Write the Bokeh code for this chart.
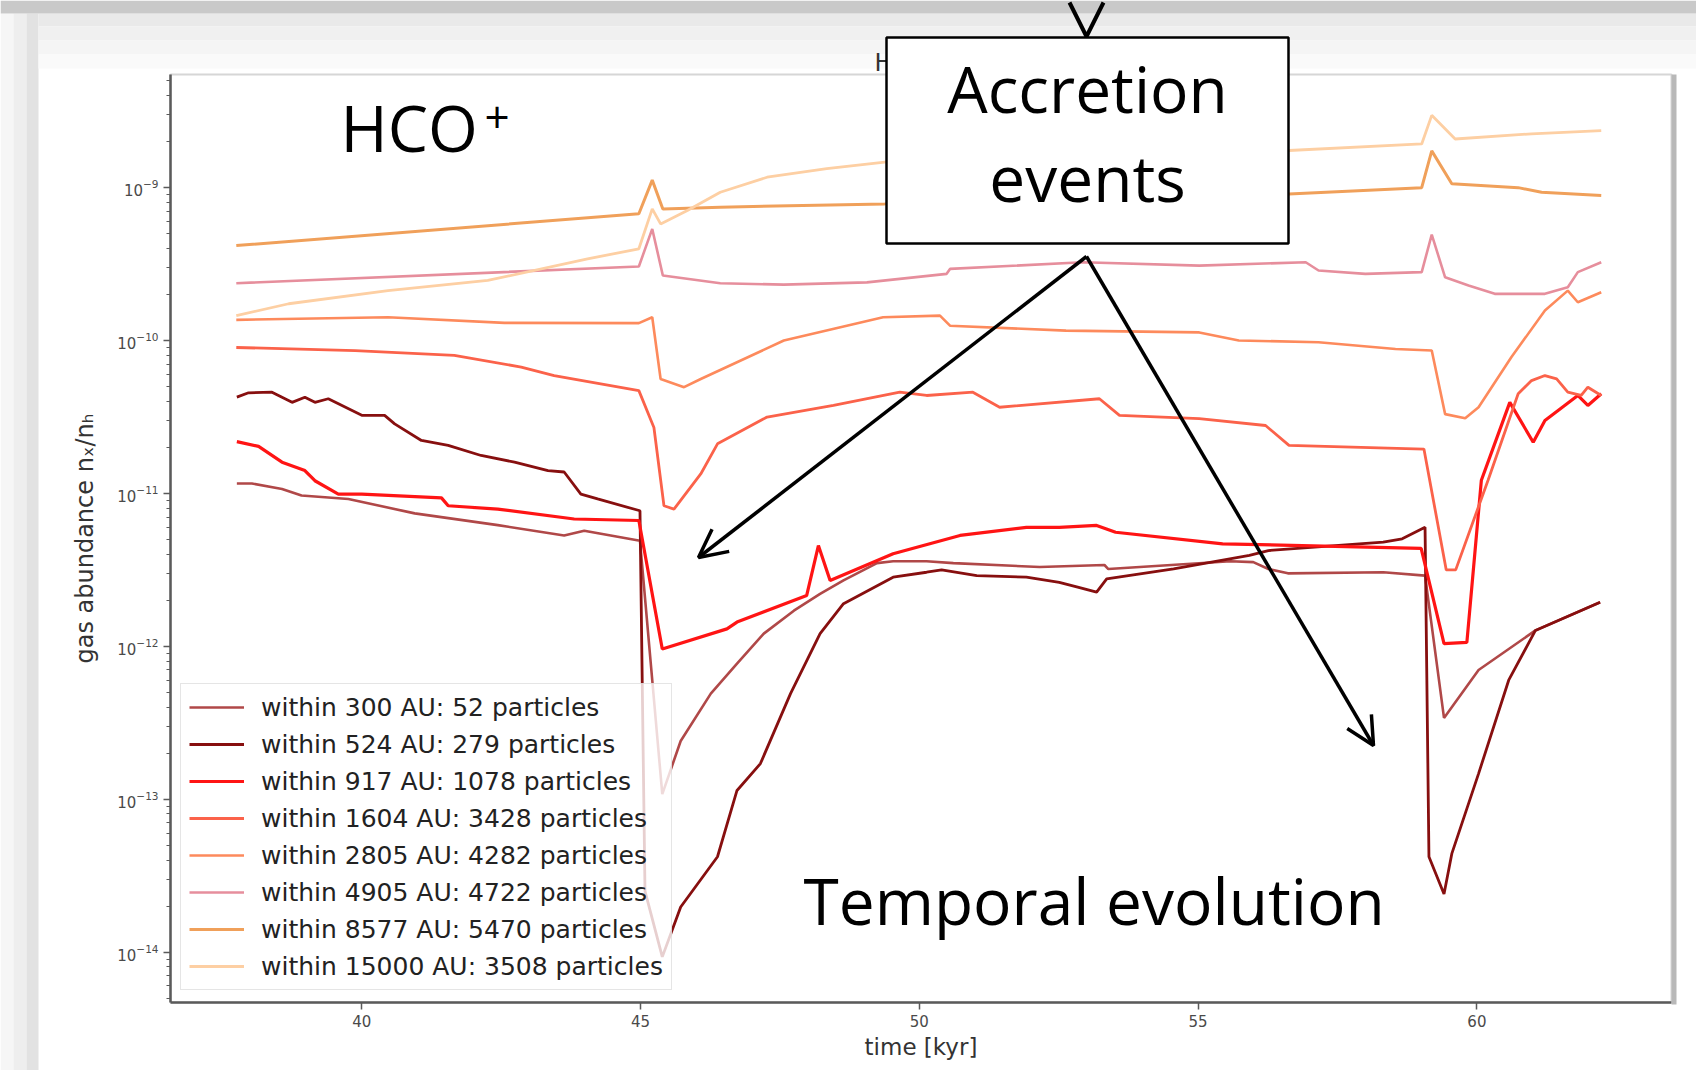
from bokeh.plotting import figure
from bokeh.layouts import column
from bokeh.models import Range1d, FixedTicker, Label, Arrow, OpenHead
from bokeh.core.properties import value
from bokeh.embed import file_html
from bokeh.resources import INLINE

W, H = 1696, 1070

# ---- data (time in kyr, gas abundance n_X/n_H) ----
t_300 = [37.76, 38.03, 38.57, 38.92, 39.76, 40.95, 42.44, 43.63, 43.99, 44.99, 45.39, 45.72, 46.26, 46.73,
         47.21, 47.75, 48.22, 48.64, 49.24, 49.53, 50.13, 50.61, 52.16, 53.32, 53.39, 55.58, 55.99, 56.26,
         56.61, 58.32, 59.07, 59.41, 60.03, 61.05, 62.21]
v_300 = [1.16e-11, 1.16e-11, 1.07e-11, 9.7e-12, 9.2e-12, 7.4e-12, 6.2e-12, 5.3e-12, 5.7e-12, 4.9e-12,
         1.08e-13, 2.4e-13, 4.9e-13, 7.7e-13, 1.21e-12, 1.71e-12, 2.2e-12, 2.7e-12, 3.5e-12, 3.6e-12,
         3.6e-12, 3.5e-12, 3.3e-12, 3.4e-12, 3.2e-12, 3.6e-12, 3.55e-12, 3.2e-12, 3.0e-12, 3.05e-12,
         2.9e-12, 3.4e-13, 7.0e-13, 1.27e-12, 1.94e-12]

t_524 = [37.76, 37.97, 38.39, 38.75, 38.98, 39.16, 39.40, 40.0, 40.41, 40.59, 41.07, 41.55, 42.14, 42.74,
         43.34, 43.63, 43.93, 44.23, 44.99, 45.08, 45.39, 45.72, 46.38, 46.73, 47.15, 47.69, 48.22, 48.64,
         49.53, 50.13, 50.4, 51.03, 51.92, 52.51, 52.84, 53.18, 53.36, 54.56, 55.92, 56.26, 58.32, 58.66,
         59.07, 59.14, 59.41, 59.55, 60.03, 60.57, 61.05, 62.21]
v_524 = [4.26e-11, 4.55e-11, 4.59e-11, 3.94e-11, 4.26e-11, 3.94e-11, 4.16e-11, 3.24e-11, 3.24e-11, 2.85e-11,
         2.22e-11, 2.06e-11, 1.77e-11, 1.60e-11, 1.41e-11, 1.38e-11, 9.9e-12, 9.2e-12, 7.7e-12, 2.5e-14,
         9.3e-15, 1.97e-14, 4.2e-14, 1.14e-13, 1.71e-13, 4.9e-13, 1.21e-12, 1.90e-12, 2.83e-12, 3.05e-12,
         3.16e-12, 2.90e-12, 2.83e-12, 2.62e-12, 2.44e-12, 2.26e-12, 2.76e-12, 3.21e-12, 3.93e-12, 4.23e-12,
         4.80e-12, 5.05e-12, 6.0e-12, 4.2e-14, 2.4e-14, 4.4e-14, 1.47e-13, 6.0e-13, 1.27e-12, 1.94e-12]

t_917 = [37.76, 38.15, 38.57, 38.98, 39.16, 39.58, 40.0, 41.43, 41.55, 42.44, 43.81, 44.97, 45.39, 46.55,
         46.73, 47.98, 48.19, 48.40, 49.53, 50.73, 51.92, 52.51, 53.18, 53.52, 55.44, 59.0, 59.41, 59.82,
         60.08, 60.59, 61.01, 61.22, 61.81, 61.99, 62.23]
v_917 = [2.18e-11, 2.03e-11, 1.60e-11, 1.41e-11, 1.21e-11, 9.9e-12, 9.9e-12, 9.35e-12, 8.3e-12, 7.9e-12,
         6.8e-12, 6.65e-12, 9.6e-13, 1.30e-12, 1.44e-12, 2.15e-12, 4.56e-12, 2.69e-12, 4.03e-12, 5.31e-12,
         6.0e-12, 6.0e-12, 6.17e-12, 5.57e-12, 4.68e-12, 4.37e-12, 1.04e-12, 1.06e-12, 1.22e-11, 3.94e-11,
         2.16e-11, 3.0e-11, 4.37e-11, 3.76e-11, 4.48e-11]

t_1604 = [37.75, 39.88, 41.66, 42.86, 43.45, 44.97, 45.24, 45.42, 45.60, 46.08, 46.38, 47.27, 48.46, 49.65,
          50.13, 50.96, 51.44, 53.23, 53.59, 55.02, 56.21, 56.63, 59.05, 59.45, 59.62, 60.2, 60.74, 60.98,
          61.22, 61.43, 61.63, 61.87, 61.99, 62.23]
v_1604 = [9.0e-11, 8.6e-11, 8.0e-11, 6.7e-11, 5.9e-11, 4.7e-11, 2.7e-11, 8.3e-12, 7.9e-12, 1.34e-11,
          2.11e-11, 3.16e-11, 3.76e-11, 4.59e-11, 4.37e-11, 4.59e-11, 3.66e-11, 4.16e-11, 3.24e-11, 3.08e-11,
          2.78e-11, 2.06e-11, 1.95e-11, 3.16e-12, 3.16e-12, 1.22e-11, 4.48e-11, 5.47e-11, 5.9e-11, 5.61e-11,
          4.59e-11, 4.37e-11, 4.95e-11, 4.37e-11]

t_2805 = [37.75, 40.47, 42.56, 44.97, 45.21, 45.36, 45.78, 46.08, 47.57, 49.35, 50.37, 50.55, 52.63, 55.02,
          55.73, 57.16, 58.54, 59.19, 59.43, 59.79, 60.03, 60.62, 61.22, 61.63, 61.81, 62.23]
v_2805 = [1.365e-10, 1.42e-10, 1.305e-10, 1.30e-10, 1.42e-10, 5.6e-11, 4.95e-11, 5.6e-11, 1.0e-10, 1.42e-10,
          1.455e-10, 1.25e-10, 1.16e-10, 1.13e-10, 1.0e-10, 9.75e-11, 8.8e-11, 8.6e-11, 3.3e-11, 3.1e-11,
          3.66e-11, 7.8e-11, 1.57e-10, 2.12e-10, 1.78e-10, 2.07e-10]

t_4905 = [37.75, 44.97, 45.21, 45.40, 46.43, 47.57, 49.06, 50.49, 50.55, 52.93, 55.02, 56.93, 57.16, 58.0,
          59.01, 59.19, 59.43, 59.85, 60.32, 61.22, 61.63, 61.81, 62.23]
v_4905 = [2.37e-10, 3.05e-10, 5.37e-10, 2.66e-10, 2.37e-10, 2.32e-10, 2.40e-10, 2.73e-10, 2.94e-10, 3.25e-10,
          3.09e-10, 3.25e-10, 2.87e-10, 2.73e-10, 2.80e-10, 4.93e-10, 2.59e-10, 2.29e-10, 2.02e-10, 2.02e-10,
          2.23e-10, 2.80e-10, 3.25e-10]

t_8577 = [37.75, 44.97, 45.21, 45.40, 46.43, 49.38, 53.0, 56.63, 59.01, 59.19, 59.55, 60.74, 61.16, 62.23]
v_8577 = [4.18e-10, 6.75e-10, 1.12e-9, 7.26e-10, 7.45e-10, 7.83e-10, 8.5e-10, 9.1e-10, 1.0e-9, 1.74e-9,
          1.06e-9, 1.0e-9, 9.33e-10, 8.87e-10]

t_15000 = [37.75, 38.69, 40.47, 42.26, 44.05, 44.97, 45.21, 45.36, 45.84, 46.43, 47.27, 48.34, 49.38, 56.63,
           59.01, 59.19, 59.61, 60.98, 62.23]
v_15000 = [1.455e-10, 1.74e-10, 2.12e-10, 2.47e-10, 3.42e-10, 3.98e-10, 7.26e-10, 5.79e-10, 7.08e-10,
           9.33e-10, 1.17e-9, 1.33e-9, 1.47e-9, 1.75e-9, 1.93e-9, 2.97e-9, 2.08e-9, 2.25e-9, 2.36e-9]

series_labels = ["within 300 AU: 52 particles", "within 524 AU: 279 particles",
                 "within 917 AU: 1078 particles", "within 1604 AU: 3428 particles",
                 "within 2805 AU: 4282 particles", "within 4905 AU: 4722 particles",
                 "within 8577 AU: 5470 particles", "within 15000 AU: 3508 particles"]
x_ticks = [40, 45, 50, 55, 60]
y_ticks = [1e-14, 1e-13, 1e-12, 1e-11, 1e-10, 1e-9]

series_t = [t_300, t_524, t_917, t_1604, t_2805, t_4905, t_8577, t_15000]
series_v = [v_300, v_524, v_917, v_1604, v_2805, v_4905, v_8577, v_15000]
colors = ["#b04848", "#870f0f", "#ff1414", "#fb624a", "#fd8a5c", "#e68e9c", "#f0a05a", "#fdcfa3"]
widths = [2.6, 2.8, 3.2, 2.8, 2.6, 2.6, 3.0, 2.8]

# ================= base chart =================
p = figure(width=W, height=H, output_backend="svg", toolbar_location=None,
           y_axis_type="log", x_range=Range1d(36.57, 63.49), y_range=Range1d(10**-14.33, 10**-8.26),
           min_border_left=170, min_border_right=25, min_border_top=74, min_border_bottom=68)
p.frame_align = False
p.background_fill_color = "white"
p.border_fill_color = "white"
p.grid.visible = False
p.outline_line_color = "#d6d6d6"
p.outline_line_width = 2

for t, v, c, w, lab in zip(series_t, series_v, colors, widths, series_labels):
    p.line(t, v, line_color=c, line_width=w, legend_label=lab)

p.xaxis.ticker = FixedTicker(ticks=x_ticks, minor_ticks=[])
minor = [k * 10.0**e for e in range(-15, -8) for k in range(2, 10)]
p.yaxis.ticker = FixedTicker(ticks=y_ticks, minor_ticks=minor)
for ax in (p.xaxis[0], p.yaxis[0]):
    ax.axis_line_color = "#5a5a5a"
    ax.axis_line_width = 2.5
    ax.major_tick_line_color = "#5a5a5a"
    ax.major_tick_line_width = 1.5
    ax.minor_tick_line_color = "#5a5a5a"
    ax.minor_tick_line_width = 1.2
    ax.major_tick_out = 7
    ax.major_tick_in = 0
    ax.minor_tick_out = 4
    ax.minor_tick_in = 0
    ax.major_label_text_font = "DejaVu Sans"
    ax.major_label_text_font_size = "15px"
    ax.major_label_text_color = "#4a4a4a"
    ax.axis_label_text_font = "DejaVu Sans"
    ax.axis_label_text_font_style = "normal"
    ax.axis_label_text_color = "#333333"
p.xaxis.axis_label = "time [kyr]"
p.xaxis.axis_label_text_font_size = "23px"
p.xaxis.axis_label_standoff = 4
p.yaxis.axis_label = "gas abundance nₓ/nₕ"
p.yaxis.axis_label_text_font_size = "24px"
p.yaxis.axis_label_standoff = 15

lg = p.legend[0]
lg.location = (10, 12)
lg.label_text_font = "DejaVu Sans"
lg.label_text_font_size = "25px"
lg.label_text_color = "#222222"
lg.glyph_width = 55
lg.glyph_height = 30
lg.label_height = 30
lg.label_standoff = 17
lg.spacing = 7
lg.padding = 8
lg.margin = 0
lg.border_line_color = "#cccccc"
lg.border_line_width = 1.5
lg.background_fill_color = "white"
lg.background_fill_alpha = 0.8

# ================= slide overlay (pixel coordinates, y downwards) =================
o = figure(width=W, height=H, output_backend="svg", toolbar_location=None,
           x_range=Range1d(0, W), y_range=Range1d(H, 0),
           x_axis_location=None, y_axis_location=None, min_border=0,
           min_border_left=0, min_border_right=0, min_border_top=0, min_border_bottom=0)
o.frame_align = False
o.outline_line_color = None
o.background_fill_color = None
o.border_fill_color = None
o.grid.visible = False
o.margin = (-H, 0, 0, 0)

# slide background: grey band on top, shadow on the left, soft shading at the top of the card
o.quad(left=[0, 13, 26], right=[13, 26, 38], top=[13, 13, 13], bottom=[H, H, H],
       fill_color=["#f6f6f6", "#eeeeee", "#e2e2e2"], line_color=None)
o.quad(left=[38] * 4, right=[W] * 4, top=[13, 26, 40, 54], bottom=[26, 40, 54, 68],
       fill_color=["#e9e9e9", "#f0f0f0", "#f5f5f5", "#fafafa"], line_color=None)
o.quad(left=[0], right=[W], top=[0], bottom=[13], fill_color="#c9c9c9", line_color=None)
o.quad(left=[1671], right=[1676], top=[74], bottom=[1004], fill_color="#b8b8b8", line_color=None)

# matplotlib title, mostly hidden by the callout box
o.text(x=[874], y=[62], text=["HCO+"], text_font=value("DejaVu Sans"), text_font_size=value("24px"),
       text_color="#333333", text_baseline="alphabetic")
o.quad(left=[886], right=[1288], top=[37], bottom=[243], fill_color="white", line_color="black",
       line_width=2.5)

def olabel(x, y, text, size, font="Open Sans", align="left"):
    o.add_layout(Label(x=x, y=y - 0.44 * size, text=text, text_font=font, text_font_size=f"{size}px",
                       text_color="black", text_align=align, text_baseline="alphabetic"))

olabel(1087, 116, "Accretion", 64, align="center")
olabel(1087, 205, "events", 64, align="center")
olabel(340, 155, "HCO", 64)
olabel(484, 136, "+", 44)
olabel(803, 928, "Temporal evolution", 64)

o.add_layout(Arrow(x_start=1086, y_start=256, x_end=698, y_end=557, line_color="black", line_width=3.5,
                   end=OpenHead(size=28, line_width=3.5, line_color="black")))
o.add_layout(Arrow(x_start=1086, y_start=256, x_end=1373, y_end=745, line_color="black", line_width=3.5,
                   end=OpenHead(size=28, line_width=3.5, line_color="black")))
o.add_layout(Arrow(x_start=1086, y_start=-40, x_end=1086, y_end=36, line_alpha=0,
                   end=OpenHead(size=34, line_width=4, line_color="black")))

layout = column(p, o, spacing=0)
open("out.html", "w").write(file_html(layout, INLINE))
